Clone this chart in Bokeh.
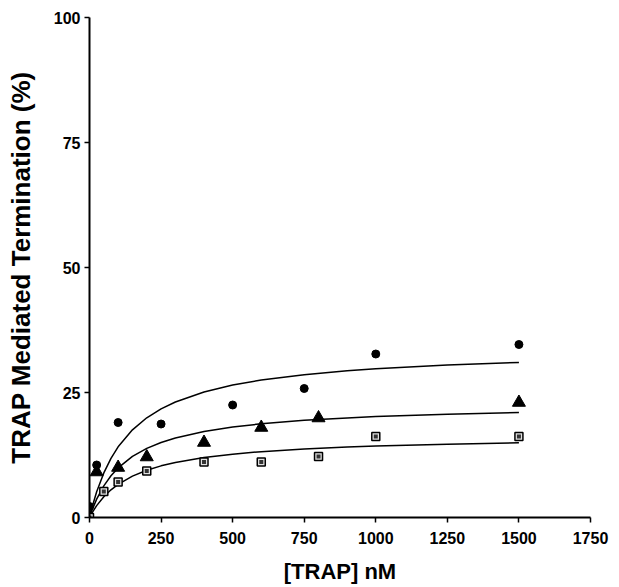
from bokeh.plotting import figure
from bokeh.models import FixedTicker
from bokeh.embed import file_html
from bokeh.resources import INLINE

# Data points
circle_x = [0, 25, 100, 250, 500, 750, 1000, 1500]
circle_y = [2.2, 10.5, 19.0, 18.7, 22.5, 25.8, 32.7, 34.6]

tri_x = [0, 25, 100, 200, 400, 600, 800, 1500]
tri_y = [0.0, 9.1, 10.0, 12.1, 15.0, 18.0, 19.9, 23.0]

sq_x = [0, 50, 100, 200, 400, 600, 800, 1000, 1500]
sq_y = [0.0, 5.2, 7.1, 9.3, 11.1, 11.1, 12.2, 16.2, 16.2]

# Fitted curves
curve_x = [0, 10, 25, 50, 75, 100, 150, 200, 250, 300, 400, 500, 600, 750, 900, 1000, 1250, 1500]
curve_circle = [0, 2.26, 5.14, 8.92, 11.83, 14.13, 17.53, 19.94, 21.73, 23.11, 25.11, 26.48, 27.49, 28.57, 29.34, 29.74, 30.49, 31.01]
curve_tri = [0, 1.63, 3.68, 6.33, 8.34, 9.91, 12.21, 13.82, 15.0, 15.91, 17.21, 18.10, 18.74, 19.43, 19.92, 20.18, 20.65, 20.98]
curve_sq = [0, 1.04, 2.38, 4.16, 5.54, 6.64, 8.28, 9.45, 10.33, 11.01, 11.99, 12.67, 13.17, 13.71, 14.10, 14.30, 14.67, 14.94]

x_ticks = [0, 250, 500, 750, 1000, 1250, 1500, 1750]
y_ticks = [0, 25, 50, 75, 100]

p = figure(width=611, height=586, output_backend="svg", toolbar_location=None,
           x_range=(0, 1750), y_range=(0, 100),
           min_border_left=89, min_border_right=21, min_border_top=17, min_border_bottom=62)
p.outline_line_color = None
p.xgrid.visible = False
p.ygrid.visible = False
p.background_fill_color = "white"

for ax in (p.xaxis[0], p.yaxis[0]):
    ax.axis_line_width = 2
    ax.axis_line_color = "black"
    ax.major_tick_line_width = 1.5
    ax.major_tick_line_color = "black"
    ax.major_tick_out = 5
    ax.major_tick_in = 0
    ax.minor_tick_line_color = None
    ax.major_label_text_font = "Liberation Sans"
    ax.major_label_text_font_style = "bold"
    ax.major_label_text_font_size = "16px"
    ax.major_label_text_color = "black"
    ax.axis_label_text_font = "Liberation Sans"
    ax.axis_label_text_font_style = "bold"
    ax.axis_label_text_color = "black"

p.xaxis.axis_label_text_font_size = "22px"
p.yaxis.axis_label_text_font_size = "26px"
p.xaxis.ticker = FixedTicker(ticks=x_ticks)
p.yaxis.ticker = FixedTicker(ticks=y_ticks)
p.xaxis.axis_label = "[TRAP] nM"
p.yaxis.axis_label = "TRAP Mediated Termination (%)"
p.xaxis.major_label_standoff = 9
p.yaxis.major_label_standoff = 4
p.xaxis.axis_label_standoff = 12
p.yaxis.axis_label_standoff = 15

p.line(curve_x, curve_circle, line_color="black", line_width=1.5)
p.line(curve_x, curve_tri, line_color="black", line_width=1.5)
p.line(curve_x, curve_sq, line_color="black", line_width=1.5)

p.scatter(circle_x, circle_y, marker="circle", size=8, fill_color="black", line_color="black")
p.scatter(tri_x, tri_y, marker="triangle", size=13, fill_color="black", line_color="black")
p.scatter(sq_x, sq_y, marker="square", size=8, fill_color="#e0e0e0", line_color="black", line_width=1.5)
p.scatter(sq_x, sq_y, marker="square", size=4, fill_color="#333333", line_color=None)

open("out.html", "w").write(file_html(p, INLINE))
